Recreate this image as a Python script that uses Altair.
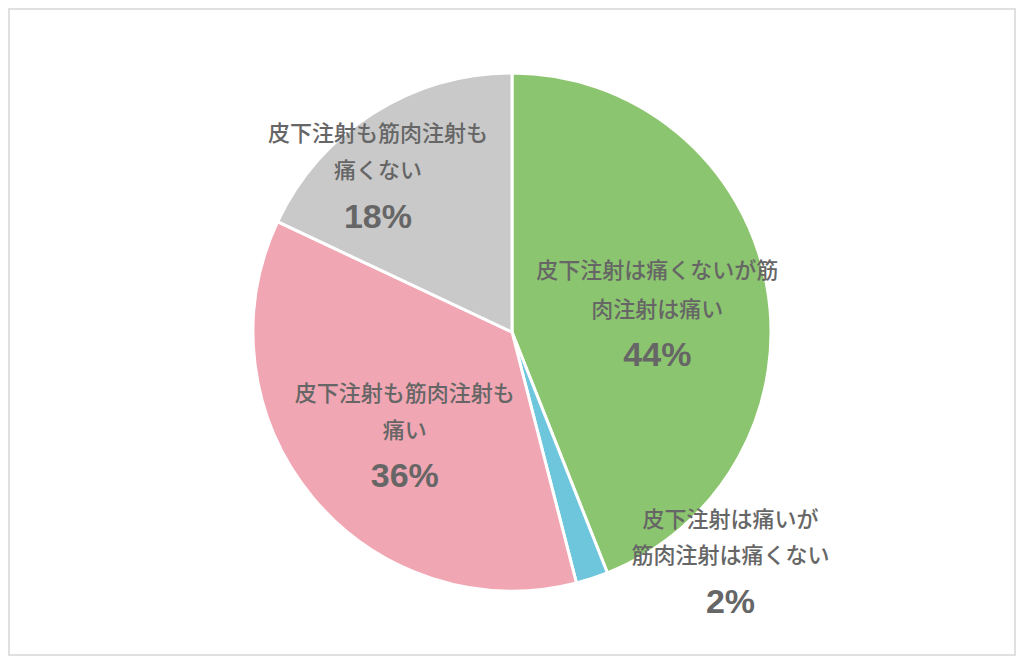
import altair as alt
import pandas as pd

categories = [
    "皮下注射は痛くないが筋\n肉注射は痛い",
    "皮下注射は痛いが\n筋肉注射は痛くない",
    "皮下注射も筋肉注射も\n痛い",
    "皮下注射も筋肉注射も\n痛くない",
]
values = [44, 2, 36, 18]
colors = ["#8cc56f", "#6ec6dc", "#f1a6b3", "#c9c9c9"]

df = pd.DataFrame({
    "cat": categories,
    "value": values,
    "order": list(range(len(categories))),
    "pct": [f"{v}%" for v in values],
})

W, H = 1008, 648
theta_scale = alt.Scale(domain=[0, 100])

frame = alt.Chart(pd.DataFrame({"a": [0]})).mark_rect(
    fillOpacity=0, stroke="#e0e0e0", strokeWidth=2
).encode(
    x=alt.value(1), x2=alt.value(W - 1), y=alt.value(1), y2=alt.value(H - 1)
)

pie = alt.Chart(df).mark_arc(outerRadius=259, stroke="white", strokeWidth=3).encode(
    theta=alt.Theta("value:Q", stack=True, scale=theta_scale),
    color=alt.Color("cat:N", scale=alt.Scale(domain=categories, range=colors), legend=None),
    order=alt.Order("order:Q"),
)

# per-label placement style: (radius, dx, dy, line height)
label_style = [
    (150, -2, -13, 39),
    (215, 152, 2, 36),
    (134, -4, -5, 37),
    (224, -14, 10, 37),
]

layers = [frame, pie]
for i, cat in enumerate(categories):
    r, dx, dy, lh = label_style[i]
    base = alt.Chart(df).transform_window(
        cum="sum(value)", sort=[alt.SortField("order")]
    ).transform_calculate(
        mid="datum.cum - datum.value / 2"
    ).transform_filter(alt.datum.order == i)
    enc = dict(theta=alt.Theta("mid:Q", stack=None, scale=theta_scale))
    cat_txt = base.mark_text(
        radius=r, dx=dx, dy=dy - lh / 2, lineBreak="\n", lineHeight=lh,
        font="Noto Sans CJK JP", fontWeight=500, fontSize=22, color="#666666",
        align="center", baseline="middle",
    ).encode(text="cat:N", **enc)
    pct_txt = base.mark_text(
        radius=r, dx=dx, dy=dy + 65,
        font="Liberation Sans", fontWeight="bold", fontSize=34, color="#666666",
        align="center", baseline="middle",
    ).encode(text="pct:N", **enc)
    layers += [cat_txt, pct_txt]

chart = alt.layer(*layers).properties(
    width=W, height=H, padding=0
).configure_view(stroke=None)

chart.save("out.html", embed_options={"renderer": "svg", "actions": False})
